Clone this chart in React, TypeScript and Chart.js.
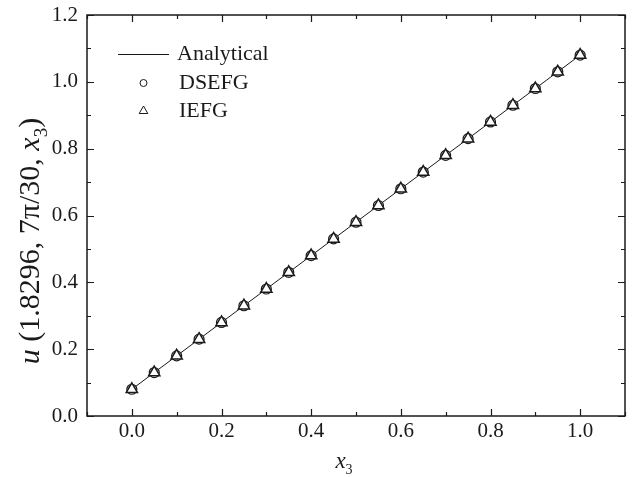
import React, { useEffect, useRef } from "react";
import { Chart, registerables } from "chart.js";

Chart.register(...registerables);

const xValues = [0, 0.05, 0.1, 0.15, 0.2, 0.25, 0.3, 0.35, 0.4, 0.45, 0.5, 0.55, 0.6, 0.65, 0.7, 0.75, 0.8, 0.85, 0.9, 0.95, 1.0];
const analytical = [0.08, 0.13, 0.18, 0.23, 0.28, 0.33, 0.38, 0.43, 0.48, 0.53, 0.58, 0.63, 0.68, 0.73, 0.78, 0.83, 0.88, 0.93, 0.98, 1.03, 1.08];
const dsefg = [0.08, 0.13, 0.18, 0.23, 0.28, 0.33, 0.38, 0.43, 0.48, 0.53, 0.58, 0.63, 0.68, 0.73, 0.78, 0.83, 0.88, 0.93, 0.98, 1.03, 1.08];
const iefg = [0.08, 0.13, 0.18, 0.23, 0.28, 0.33, 0.38, 0.43, 0.48, 0.53, 0.58, 0.63, 0.68, 0.73, 0.78, 0.83, 0.88, 0.93, 0.98, 1.03, 1.08];
const seriesNames = ["Analytical", "DSEFG", "IEFG"];
const xTitle = [{ t: "x", i: true }, { t: "3", sub: true }];
const yTitle = [
  { t: "u", i: true },
  { t: " (1.8296, 7\u03C0/30, " },
  { t: "x", i: true },
  { t: "3", sub: true },
  { t: ")" },
];

const FONT = "'Liberation Serif', 'Times New Roman', serif";
const INK = "#1a1a1a";

type Seg = { t: string; i?: boolean; sub?: boolean };

function segFont(s: Seg, size: number) {
  const sz = s.sub ? Math.round(size * 0.62) : size;
  return `${s.i ? "italic " : ""}${sz}px ${FONT}`;
}

function drawSegs(ctx: CanvasRenderingContext2D, segs: Seg[], cx: number, baseline: number, size: number) {
  let total = 0;
  for (const s of segs) {
    ctx.font = segFont(s, size);
    total += ctx.measureText(s.t).width;
  }
  let x = cx - total / 2;
  ctx.textAlign = "left";
  ctx.textBaseline = "alphabetic";
  for (const s of segs) {
    ctx.font = segFont(s, size);
    ctx.fillText(s.t, x, baseline + (s.sub ? size * 0.25 : 0));
    x += ctx.measureText(s.t).width;
  }
}

const isMajor = (v: number) => Math.round(v * 10) % 2 === 0;

const framePlugin = {
  id: "frameTicks",
  afterDraw(chart: any) {
    const { ctx, chartArea: a, scales } = chart;
    ctx.save();
    ctx.strokeStyle = INK;
    ctx.lineWidth = 1.5;
    ctx.strokeRect(a.left, a.top, a.right - a.left, a.bottom - a.top);
    ctx.lineWidth = 1.2;
    ctx.beginPath();
    for (const t of scales.x.ticks) {
      const px = Math.round(scales.x.getPixelForValue(t.value)) + 0.5;
      const len = isMajor(t.value) ? 7 : 4;
      ctx.moveTo(px, a.bottom);
      ctx.lineTo(px, a.bottom - len);
      ctx.moveTo(px, a.top);
      ctx.lineTo(px, a.top + len);
    }
    for (const t of scales.y.ticks) {
      const py = Math.round(scales.y.getPixelForValue(t.value)) + 0.5;
      const len = isMajor(t.value) ? 7 : 4;
      ctx.moveTo(a.left, py);
      ctx.lineTo(a.left + len, py);
      ctx.moveTo(a.right, py);
      ctx.lineTo(a.right - len, py);
    }
    ctx.stroke();

    // axis titles
    ctx.fillStyle = INK;
    drawSegs(ctx, xTitle, 344, 468, 23);
    ctx.save();
    ctx.translate(39, 241);
    ctx.rotate(-Math.PI / 2);
    drawSegs(ctx, yTitle, 0, 0, 30);
    ctx.restore();

    // legend
    const rows = [54, 83, 111];
    ctx.lineWidth = 1;
    ctx.beginPath();
    ctx.moveTo(118, rows[0] + 0.5);
    ctx.lineTo(169, rows[0] + 0.5);
    ctx.stroke();
    ctx.beginPath();
    ctx.arc(143.5, rows[1], 3.5, 0, Math.PI * 2);
    ctx.stroke();
    const r = 5;
    ctx.beginPath();
    ctx.moveTo(143.5, rows[2] - r);
    ctx.lineTo(143.5 + r * Math.sin((2 * Math.PI) / 3), rows[2] + r / 2);
    ctx.lineTo(143.5 - r * Math.sin((2 * Math.PI) / 3), rows[2] + r / 2);
    ctx.closePath();
    ctx.stroke();
    ctx.font = `22px ${FONT}`;
    ctx.textAlign = "left";
    ctx.textBaseline = "middle";
    ctx.fillText(seriesNames[0], 177, rows[0]);
    ctx.fillText(seriesNames[1], 179, rows[1]);
    ctx.fillText(seriesNames[2], 179, rows[2]);
    ctx.restore();
  },
};

export default function App() {
  const ref = useRef<HTMLCanvasElement | null>(null);
  useEffect(() => {
    document.body.style.margin = "0";
    const canvas = ref.current!;
    const toPts = (ys: number[]) => xValues.map((x, k) => ({ x, y: ys[k] }));
    const tickCb = (v: any) => (isMajor(Number(v)) ? Number(v).toFixed(1) : "");
    const chart = new Chart(canvas, {
      type: "scatter",
      data: {
        datasets: [
          {
            label: seriesNames[2],
            data: toPts(iefg),
            showLine: false,
            pointStyle: "triangle",
            pointRadius: 6.5,
            pointBorderWidth: 1.5,
            pointBorderColor: INK,
            pointBackgroundColor: "#ffffff",
            order: 0,
          },
          {
            label: seriesNames[1],
            data: toPts(dsefg),
            showLine: false,
            pointStyle: "circle",
            pointRadius: 5,
            pointBorderWidth: 1.2,
            pointBorderColor: INK,
            pointBackgroundColor: "#ffffff",
            order: 1,
          },
          {
            label: seriesNames[0],
            data: toPts(analytical),
            showLine: true,
            borderColor: INK,
            borderWidth: 1,
            pointRadius: 0,
            order: 2,
          },
        ],
      },
      options: {
        responsive: false,
        animation: false,
        devicePixelRatio: 1,
        layout: { padding: { left: 0, right: 5, top: 15, bottom: 0 } },
        plugins: { legend: { display: false }, tooltip: { enabled: false } },
        scales: {
          x: {
            type: "linear",
            min: -0.1,
            max: 1.1,
            grid: { display: false, drawTicks: false, tickLength: 0 },
            border: { display: false },
            ticks: {
              stepSize: 0.1,
              autoSkip: false,
              maxRotation: 0,
              padding: 3,
              color: INK,
              font: { family: FONT, size: 21 },
              callback: tickCb,
            },
            afterFit: (s: any) => {
              s.height = 61;
              s.paddingLeft = 0;
              s.paddingRight = 0;
            },
          },
          y: {
            type: "linear",
            min: 0,
            max: 1.2,
            grid: { display: false, drawTicks: false, tickLength: 0 },
            border: { display: false },
            ticks: {
              stepSize: 0.1,
              autoSkip: false,
              padding: 9,
              color: INK,
              font: { family: FONT, size: 21 },
              callback: tickCb,
            },
            afterFit: (s: any) => {
              s.width = 87;
              s.paddingTop = 0;
              s.paddingBottom = 0;
            },
          },
        },
      },
      plugins: [framePlugin],
    });
    return () => chart.destroy();
  }, []);
  return <canvas ref={ref} width={633} height={477} style={{ display: "block", width: 633, height: 477 }} />;
}
